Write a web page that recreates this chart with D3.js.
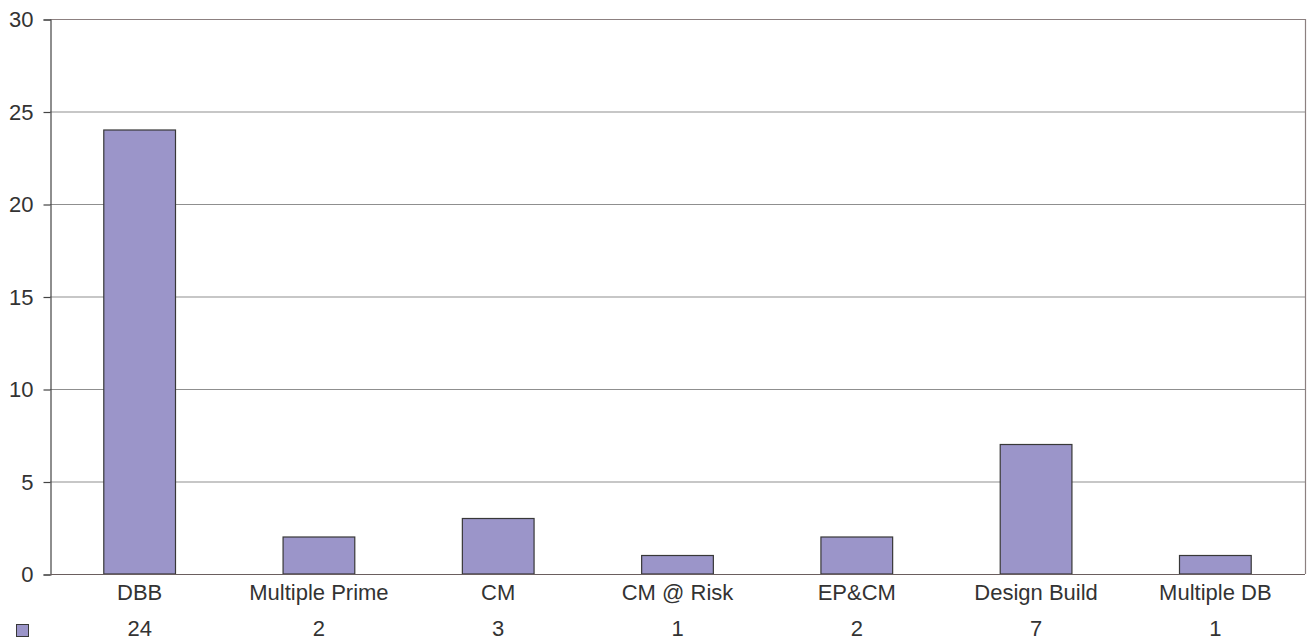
<!DOCTYPE html>
<html>
<head>
<meta charset="utf-8">
<script src="https://cdn.jsdelivr.net/npm/d3@7"></script>
<style>
  body { margin: 0; background: #fff; }
  text { font-family: "Liberation Sans", Arial, sans-serif; fill: #333; }
</style>
</head>
<body>
<svg id="chart" width="1309" height="641"></svg>
<script>
// data
var categories = ["DBB", "Multiple Prime", "CM", "CM @ Risk", "EP&CM", "Design Build", "Multiple DB"];
var counts = [24, 2, 3, 1, 2, 7, 1];
var yTicks = [0, 5, 10, 15, 20, 25, 30];

var plotLeft = 50, plotRight = 1305, plotTop = 19, plotBottom = 574;
var fontSize = "22px";

var svg = d3.select("#chart");

var x = d3.scaleBand()
    .domain(categories)
    .range([plotLeft, plotRight])
    .paddingInner(0.6)
    .paddingOuter(0.3);

var y = d3.scaleLinear()
    .domain([0, 30])
    .range([plotBottom, plotTop]);

// gridlines
svg.append("g")
    .selectAll("line")
    .data(yTicks.filter(function(d) { return d > 0; }))
    .enter().append("line")
    .attr("x1", plotLeft).attr("x2", plotRight)
    .attr("y1", function(d) { return y(d) + 0.5; })
    .attr("y2", function(d) { return y(d) + 0.5; })
    .style("stroke", function(d) { return d == 30 ? "#8c8080" : "#8f8f8f"; })
    .style("stroke-width", 1.2);

// right border
svg.append("line")
    .attr("x1", plotRight + 0.5).attr("x2", plotRight + 0.5)
    .attr("y1", plotTop).attr("y2", plotBottom)
    .style("stroke", "#8c8080")
    .style("stroke-width", 1.2);

// bars
svg.append("g")
    .selectAll("rect")
    .data(counts)
    .enter().append("rect")
    .attr("x", function(d, i) { return x(categories[i]); })
    .attr("width", x.bandwidth())
    .attr("y", function(d) { return y(d); })
    .attr("height", function(d) { return y(0) - y(d); })
    .style("fill", "#9b95c9")
    .style("stroke", "#383838")
    .style("stroke-width", 1.2);

// y axis
var yAxis = d3.axisLeft(y).tickValues(yTicks).tickSize(7).tickPadding(10);
var ga = svg.append("g")
    .attr("transform", "translate(" + (plotLeft + 0.5) + ",0.5)")
    .call(yAxis);
ga.select(".domain").style("stroke", "#444").style("stroke-width", 1.2);
ga.selectAll(".tick line").style("stroke", "#444").style("stroke-width", 1.2);
ga.selectAll(".tick text")
    .style("font-size", fontSize)
    .style("fill", "#333")
    .style("font-family", "'Liberation Sans', Arial, sans-serif");

// x baseline
svg.append("line")
    .attr("x1", plotLeft).attr("x2", plotRight)
    .attr("y1", plotBottom + 0.5).attr("y2", plotBottom + 0.5)
    .style("stroke", "#6a5e5e")
    .style("stroke-width", 1.2);

// category labels
svg.append("g")
    .selectAll("text")
    .data(categories)
    .enter().append("text")
    .attr("x", function(d) { return x(d) + x.bandwidth() / 2; })
    .attr("y", 600)
    .attr("text-anchor", "middle")
    .style("font-size", fontSize)
    .text(function(d) { return d; });

// data table row
svg.append("rect")
    .attr("x", 16.5).attr("y", 624.5)
    .attr("width", 12).attr("height", 12)
    .style("fill", "#9b95c9")
    .style("stroke", "#383838");

svg.append("g")
    .selectAll("text")
    .data(counts)
    .enter().append("text")
    .attr("x", function(d, i) { return x(categories[i]) + x.bandwidth() / 2; })
    .attr("y", 636)
    .attr("text-anchor", "middle")
    .style("font-size", fontSize)
    .text(function(d) { return d; });
</script>
</body>
</html>
